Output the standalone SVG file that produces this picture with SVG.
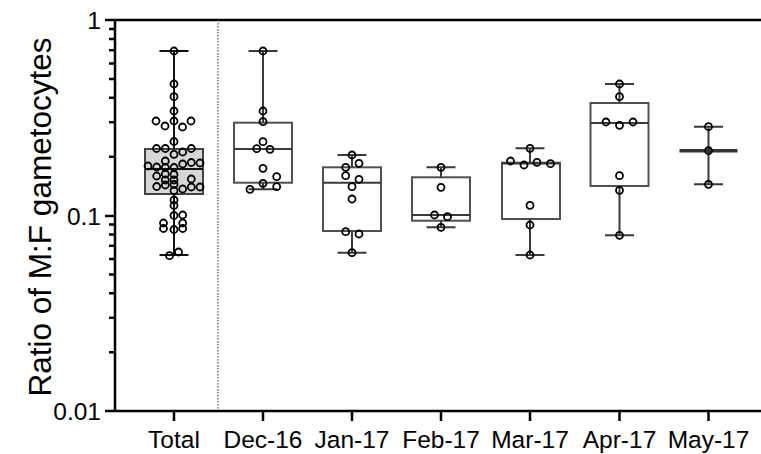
<svg xmlns="http://www.w3.org/2000/svg" width="761" height="454" viewBox="0 0 761 454">
<style>
text{font-family:"Liberation Sans",Arial,sans-serif;fill:#000}
.tl{font-size:24.5px}
.ax{stroke:#000;stroke-width:2.5;fill:none}
.wh{stroke:#3a3a3a;stroke-width:2;fill:none}
.bx{stroke:#505050;stroke-width:2;fill:none}
.pt{fill:none;stroke:#000;stroke-width:1.8}
</style>
<rect width="761" height="454" fill="#fff"/>
<g id="axes">
<path class="ax" d="M115,20V411M105,411H761M105,20H761"/>
<path class="ax" d="M105,216H115M109,28.9H115M109,38.9H115M109,50.3H115M109,63.4H115M109,78.9H115M109,97.8H115M109,122.2H115M109,156.7H115M109,224.4H115M109,234.4H115M109,245.8H115M109,258.9H115M109,274.4H115M109,293.3H115M109,317.7H115M109,352.2H115"/>
<path class="ax" d="M174,411V421M263,411V421M352,411V421M441,411V421M530,411V421M619.5,411V421M708.5,411V421"/>
<text class="tl" x="101" y="28.8" text-anchor="end">1</text>
<text class="tl" x="101" y="225" text-anchor="end">0.1</text>
<text class="tl" x="101" y="420" text-anchor="end">0.01</text>
<text x="51" y="217" font-size="31.5" text-anchor="middle" transform="rotate(-90 51 217)">Ratio of M:F gametocytes</text>
<text class="tl" x="174" y="447.5" text-anchor="middle">Total</text>
<text class="tl" x="263" y="447.5" text-anchor="middle">Dec-16</text>
<text class="tl" x="352" y="447.5" text-anchor="middle">Jan-17</text>
<text class="tl" x="441" y="447.5" text-anchor="middle">Feb-17</text>
<text class="tl" x="530" y="447.5" text-anchor="middle">Mar-17</text>
<text class="tl" x="619.5" y="447.5" text-anchor="middle">Apr-17</text>
<text class="tl" x="708.5" y="447.5" text-anchor="middle">May-17</text>
</g>
<g id="connectors">
<line x1="218" y1="20" x2="218" y2="410" stroke="#555" stroke-width="1.2" stroke-dasharray="1.5,1.5"/>
</g>
<g id="total">
<rect x="145" y="149" width="58" height="45" fill="#d6d6d6" stroke="#444" stroke-width="2"/>
<path d="M145,169H203M174,51V149M174,194V255M159.5,51H188.5M159.5,255H188.5" stroke="#111" stroke-width="2" fill="none"/>
<g class="pt">
<circle cx="174" cy="51" r="3.5"/><circle cx="174" cy="84" r="3.5"/><circle cx="174" cy="96.7" r="3.5"/><circle cx="174" cy="111" r="3.5"/>
<circle cx="156" cy="121" r="3.5"/><circle cx="165" cy="126" r="3.5"/><circle cx="174" cy="121" r="3.5"/><circle cx="182.5" cy="127" r="3.5"/><circle cx="191" cy="121" r="3.5"/>
<circle cx="174" cy="141.5" r="3.5"/>
<circle cx="156.5" cy="148.5" r="3.5"/><circle cx="165.3" cy="148.5" r="3.5"/><circle cx="174" cy="154.3" r="3.5"/><circle cx="182.7" cy="152" r="3.5"/><circle cx="191.3" cy="148.5" r="3.5"/>
<circle cx="148" cy="166" r="3.5"/><circle cx="156.7" cy="167" r="3.5"/><circle cx="165.3" cy="161" r="3.5"/><circle cx="165.3" cy="167.5" r="3.5"/><circle cx="174" cy="167.5" r="3.5"/><circle cx="182.7" cy="164" r="3.5"/><circle cx="191.3" cy="162.5" r="3.5"/><circle cx="200" cy="163" r="3.5"/>
<circle cx="156.7" cy="176" r="3.5"/><circle cx="156.7" cy="186.5" r="3.5"/>
<circle cx="165.3" cy="174" r="3.5"/><circle cx="165.3" cy="180" r="3.5"/><circle cx="165.3" cy="185" r="3.5"/>
<circle cx="174" cy="174.5" r="3.5"/><circle cx="174" cy="180" r="3.5"/><circle cx="174" cy="184.5" r="3.5"/><circle cx="174" cy="190.5" r="3.5"/>
<circle cx="182.7" cy="189" r="3.5"/><circle cx="191.3" cy="179" r="3.5"/><circle cx="191.3" cy="187" r="3.5"/><circle cx="200" cy="187" r="3.5"/>
<circle cx="174" cy="200" r="3.5"/><circle cx="174" cy="205.5" r="3.5"/><circle cx="174" cy="215.5" r="3.5"/><circle cx="182.7" cy="215" r="3.5"/>
<circle cx="163.5" cy="223" r="3.5"/><circle cx="163.5" cy="228.5" r="3.5"/><circle cx="182.7" cy="223" r="3.5"/><circle cx="182.7" cy="228.5" r="3.5"/><circle cx="174" cy="229.5" r="3.5"/>
<circle cx="169.5" cy="255.7" r="3.5"/><circle cx="178.5" cy="252" r="3.5"/>
</g>
</g>
<g id="dec16">
<rect class="bx" x="234" y="122.7" width="58" height="60"/>
<path class="wh" d="M234,149H292M263,51V122.7M263,182.7V189.3M248.5,51H277.5M248.5,189.3H277.5"/>
<g class="pt">
<circle cx="263" cy="51" r="3.5"/><circle cx="263" cy="111" r="3.5"/><circle cx="263" cy="121.7" r="3.5"/><circle cx="263" cy="141.7" r="3.5"/>
<circle cx="256.7" cy="148.7" r="3.5"/><circle cx="270" cy="149.3" r="3.5"/><circle cx="263" cy="168.3" r="3.5"/><circle cx="276.7" cy="176.7" r="3.5"/>
<circle cx="263" cy="183.3" r="3.5"/><circle cx="276.7" cy="186.7" r="3.5"/><circle cx="250" cy="189.3" r="3.5"/>
</g>
</g>
<g id="jan17">
<rect class="bx" x="323" y="167.3" width="58" height="63.7"/>
<path class="wh" d="M323,182.7H381M352,155V167.3M352,231V252.7M337.5,155H366.5M337.5,252.7H366.5"/>
<g class="pt">
<circle cx="352" cy="155" r="3.5"/><circle cx="359" cy="163.3" r="3.5"/><circle cx="345.7" cy="167.3" r="3.5"/><circle cx="345.7" cy="175.7" r="3.5"/>
<circle cx="359" cy="179.3" r="3.5"/><circle cx="352" cy="186.7" r="3.5"/><circle cx="352" cy="199" r="3.5"/><circle cx="345.7" cy="231.7" r="3.5"/>
<circle cx="359" cy="234" r="3.5"/><circle cx="352" cy="252.7" r="3.5"/>
</g>
</g>
<g id="feb17">
<rect class="bx" x="412" y="177.3" width="58" height="43.4"/>
<path class="wh" d="M412,215H470M441,167.3V177.3M441,220.7V227.3M426.5,167.3H455.5M426.5,227.3H455.5"/>
<g class="pt">
<circle cx="441" cy="167.3" r="3.5"/><circle cx="441" cy="187.3" r="3.5"/><circle cx="434.5" cy="215" r="3.5"/><circle cx="447.5" cy="216.7" r="3.5"/><circle cx="441" cy="227.3" r="3.5"/>
</g>
</g>
<g id="mar17">
<rect class="bx" x="502" y="162.7" width="58" height="56.3"/>
<path class="wh" d="M502,163.5H560M530,148.3V162.7M530,219V255M515.5,148.3H544.5M515.5,255H544.5"/>
<g class="pt">
<circle cx="530" cy="148.3" r="3.5"/><circle cx="510.5" cy="161" r="3.5"/><circle cx="524" cy="165" r="3.5"/><circle cx="537" cy="162.3" r="3.5"/>
<circle cx="550.5" cy="163.7" r="3.5"/><circle cx="530" cy="205.3" r="3.5"/><circle cx="530" cy="225" r="3.5"/><circle cx="530" cy="255" r="3.5"/>
</g>
</g>
<g id="apr17">
<rect class="bx" x="590.5" y="103" width="58" height="83"/>
<path class="wh" d="M590.5,123H648.5M619.5,84V103M619.5,186V235.3M605,84H634M605,235.3H634"/>
<g class="pt">
<circle cx="619.5" cy="84" r="3.5"/><circle cx="619.5" cy="96.7" r="3.5"/><circle cx="606" cy="122" r="3.5"/><circle cx="619.5" cy="125.3" r="3.5"/>
<circle cx="633" cy="122" r="3.5"/><circle cx="619.5" cy="175.7" r="3.5"/><circle cx="619.5" cy="190.3" r="3.5"/><circle cx="619.5" cy="235.3" r="3.5"/>
</g>
</g>
<g id="may17">
<path class="wh" d="M708.5,126.7V184.3M694,126.7H723M694,184.3H723"/>
<path d="M679.5,150.7H737.5" stroke="#333" stroke-width="3.4"/>
<g class="pt">
<circle cx="708.5" cy="126.7" r="3.5"/><circle cx="708.5" cy="184.3" r="3.5"/>
</g>
<circle cx="708.5" cy="150.7" r="3.6" fill="#333" stroke="#000" stroke-width="1.5"/>
</g>
</svg>
